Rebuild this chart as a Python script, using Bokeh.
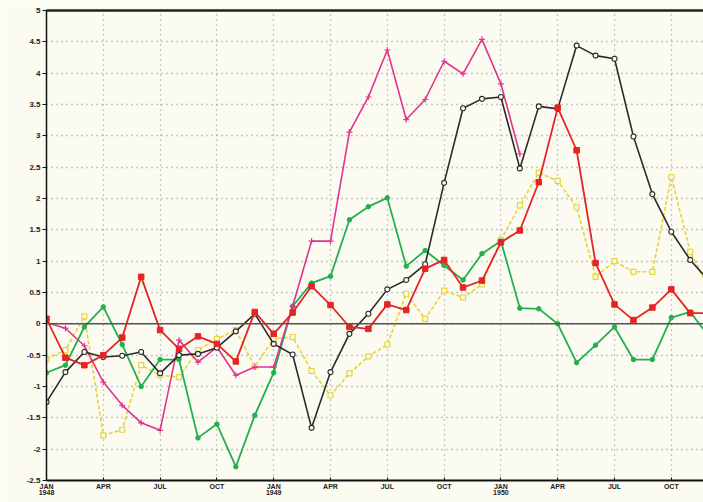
from bokeh.plotting import figure
from bokeh.models import Range1d, FixedTicker, LinearAxis, Span
from bokeh.embed import file_html
from bokeh.resources import INLINE

months = list(range(36))
tick_months = [0, 3, 6, 9, 12, 15, 18, 21, 24, 27, 30, 33]
tick_labels = ["JAN\n1948", "APR", "JUL", "OCT", "JAN\n1949", "APR", "JUL", "OCT",
               "JAN\n1950", "APR", "JUL", "OCT"]
y_ticks = [-2.5, -2, -1.5, -1, -0.5, 0, 0.5, 1, 1.5, 2, 2.5, 3, 3.5, 4, 4.5, 5]
y_tick_labels = ["-2.5", "-2", "-1.5", "-1", "-0.5", "0", "0.5", "1", "1.5", "2",
                 "2.5", "3", "3.5", "4", "4.5", "5"]

black = [-1.25, -0.77, -0.45, -0.53, -0.51, -0.45, -0.79, -0.5, -0.48, -0.38, -0.12, 0.16,
         -0.32, -0.49, -1.66, -0.77, -0.16, 0.16, 0.55, 0.7, 0.95, 2.25, 3.44, 3.59,
         3.62, 2.48, 3.47, 3.43, 4.44, 4.28, 4.23, 2.99, 2.07, 1.47, 1.02, 0.68]
magenta = [0.02, -0.07, -0.35, -0.93, -1.3, -1.58, -1.7, -0.26, -0.61, -0.37, -0.82, -0.69,
           -0.69, 0.28, 1.32, 1.32, 3.06, 3.62, 4.37, 3.26, 3.58, 4.19, 3.99, 4.54,
           3.83, 2.71]
green = [-0.78, -0.66, -0.05, 0.27, -0.33, -1.0, -0.57, -0.57, -1.82, -1.6, -2.28, -1.46,
         -0.78, 0.28, 0.65, 0.76, 1.66, 1.87, 2.01, 0.92, 1.17, 0.93, 0.7, 1.12,
         1.32, 0.25, 0.24, 0.0, -0.62, -0.34, -0.05, -0.57, -0.57, 0.1, 0.19, -0.21]
red = [0.08, -0.54, -0.66, -0.5, -0.22, 0.75, -0.1, -0.4, -0.2, -0.32, -0.6, 0.19,
       -0.16, 0.18, 0.6, 0.3, -0.05, -0.08, 0.31, 0.22, 0.88, 1.02, 0.58, 0.69,
       1.3, 1.49, 2.26, 3.45, 2.77, 0.97, 0.31, 0.06, 0.26, 0.55, 0.17, 0.17]
yellow = [-0.56, -0.42, 0.12, -1.78, -1.69, -0.66, -0.82, -0.85, -0.42, -0.24, -0.1, -0.68,
          -0.24, -0.21, -0.75, -1.14, -0.79, -0.52, -0.33, 0.48, 0.08, 0.53, 0.42, 0.63,
          1.34, 1.89, 2.41, 2.28, 1.86, 0.75, 1.0, 0.83, 0.83, 2.34, 1.15, 0.55]

BG = "#fbfbf2"
FONT = "Liberation Sans"

p = figure(width=703, height=502, output_backend="svg", toolbar_location=None,
           x_range=Range1d(0, 34.7), y_range=Range1d(-2.5, 5),
           x_axis_location=None, y_axis_location=None,
           background_fill_color=BG, border_fill_color=BG,
           min_border_left=46, min_border_right=0, min_border_top=10, min_border_bottom=22)
p.outline_line_color = None

# axes
yax = LinearAxis(ticker=FixedTicker(ticks=y_ticks))
yax.major_label_overrides = {t: l for t, l in zip(y_ticks, y_tick_labels)}
yax.major_tick_out = 4
yax.major_tick_in = 0
yax.minor_tick_out = 0
yax.axis_line_width = 1.5
yax.axis_line_color = "#111111"
yax.major_tick_line_color = "#111111"
yax.major_label_text_font = FONT
yax.major_label_text_font_style = "bold"
yax.major_label_text_font_size = "8px"
yax.major_label_text_color = "#222222"
yax.major_label_standoff = 2
p.add_layout(yax, "left")

xax = LinearAxis(ticker=FixedTicker(ticks=tick_months))
xax.major_label_overrides = {t: l for t, l in zip(tick_months, tick_labels)}
xax.major_tick_out = 0
xax.major_tick_in = 3
xax.minor_tick_out = 0
xax.axis_line_width = 2
xax.axis_line_color = "#111111"
xax.major_tick_line_color = "#111111"
xax.major_label_text_font = FONT
xax.major_label_text_font_style = "bold"
xax.major_label_text_font_size = "7px"
xax.major_label_text_color = "#222222"
xax.major_label_standoff = 2
xax.major_label_text_line_height = 0.9
p.add_layout(xax, "below")

top = LinearAxis(ticker=FixedTicker(ticks=[]))
top.major_tick_out = 0
top.major_tick_in = 0
top.minor_tick_out = 0
top.major_label_text_font_size = "0px"
top.axis_line_width = 2.5
top.axis_line_color = "#222222"
p.add_layout(top, "above")

# grid
p.xgrid.ticker = FixedTicker(ticks=tick_months)
p.ygrid.ticker = FixedTicker(ticks=y_ticks)
for g in (p.xgrid, p.ygrid):
    g.grid_line_color = "#7a7a7a"
    g.grid_line_dash = "1 4"
    g.grid_line_width = 1.3
    g.grid_line_alpha = 0.8

p.add_layout(Span(location=0, dimension="width", line_color="#555555", line_width=1.5))

# series
YEL = "#e6d43a"
p.line(months, yellow, line_color=YEL, line_width=1.6, line_dash="4 2")
p.scatter(months, yellow, marker="square", size=5, line_color=YEL, fill_color=BG, line_width=1.2)

GRN = "#22b04e"
p.line(months, green, line_color=GRN, line_width=1.8)
p.scatter(months, green, marker="circle", size=4.5, line_color=GRN, fill_color=GRN)

MAG = "#e2338c"
mx = months[:len(magenta)]
p.line(mx, magenta, line_color=MAG, line_width=1.6)
p.scatter(mx, magenta, marker="cross", size=6, line_color=MAG, line_width=1.2)

BLK = "#2a2a2a"
p.line(months, black, line_color=BLK, line_width=1.6)
p.scatter(months, black, marker="circle", size=5, line_color=BLK, fill_color=BG, line_width=1.1)

RED = "#e52424"
p.line(months, red, line_color=RED, line_width=1.8)
p.scatter(months, red, marker="square", size=5.5, line_color=RED, fill_color=RED)

open("out.html", "w").write(file_html(p, INLINE))
